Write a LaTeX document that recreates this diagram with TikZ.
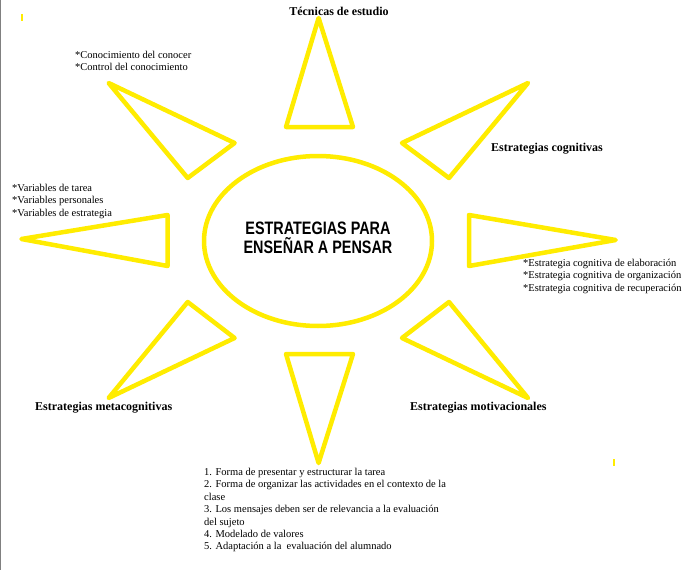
\documentclass[tikz,border=0pt]{standalone}
\usepackage{fontspec}
\usepackage{graphicx}
\setmainfont{Liberation Serif}
\setsansfont{Liberation Sans}
\definecolor{sunyel}{RGB}{255,236,0}
\begin{document}
\begin{tikzpicture}[x=1pt,y=-1pt,
  ray/.style={draw=sunyel,line width=4.5pt,line join=round,fill=white},
  ttl/.style={font=\fontsize{12}{13}\selectfont\bfseries,inner sep=0pt},
  lst/.style={font=\fontsize{10.5}{12.4}\selectfont,inner sep=0pt,align=left,anchor=north west}]
\useasboundingbox[fill=white] (0,0) rectangle (694,570);
\draw[gray,line width=1pt] (0.5,0) -- (0.5,570);
% rays
\draw[ray] (318.6,18) -- (353,127) -- (286,127) -- cycle;
\draw[ray] (108.6,83) -- (234.6,143) -- (187.7,178) -- cycle;
\draw[ray] (528,83) -- (402,143) -- (449,178) -- cycle;
\draw[ray] (21.4,239) -- (167.6,215) -- (167.6,266) -- cycle;
\draw[ray] (615.7,240) -- (469,215) -- (469,266) -- cycle;
\draw[ray] (108.6,398) -- (187.7,302) -- (234.6,338) -- cycle;
\draw[ray] (528,398) -- (449,302) -- (402,338) -- cycle;
\draw[ray] (318.6,463) -- (286,354) -- (353,354) -- cycle;
% center
\draw[draw=sunyel,line width=4.5pt,fill=white] (318,241) ellipse [x radius=114,y radius=85];
\node[inner sep=0pt,align=center,font=\sffamily\bfseries\fontsize{18}{19}\selectfont] (ct) at (318,238)
  {\scalebox{0.8}[1]{ESTRATEGIAS PARA}\\\scalebox{0.8}[1]{ENSEÑAR A PENSAR}};
% marks
\draw[sunyel,line width=1.5pt] (22,14) -- (22,21);
\draw[sunyel,line width=1.5pt] (614,459) -- (614,466);
% texts
\node[ttl] (t1) at (339,11) {Técnicas de estudio};
\node[ttl,anchor=west] (t2) at (491,149) {Estrategias cognitivas};
\node[ttl,anchor=west] (t3) at (35,408) {Estrategias metacognitivas};
\node[ttl,anchor=west] (t4) at (410,408) {Estrategias motivacionales};
\node[lst] (l1) at (75,51) {*Conocimiento del conocer\\*Control del conocimiento};
\node[lst] (l2) at (12,184) {*Variables de tarea\\*Variables personales\\*Variables de estrategia};
\node[lst] (l3) at (523,259) {*Estrategia cognitiva de elaboración\\*Estrategia cognitiva de organización\\*Estrategia cognitiva de recuperación};
\node[lst] (l4) at (204,468) {1. Forma de presentar y estructurar la tarea\\
2. Forma de organizar las actividades en el contexto de la\\clase\\
3. Los mensajes deben ser de relevancia a la evaluación\\del sujeto\\
4. Modelado de valores\\
5. Adaptación a la\ \ evaluación del alumnado};
\end{tikzpicture}
\end{document}
